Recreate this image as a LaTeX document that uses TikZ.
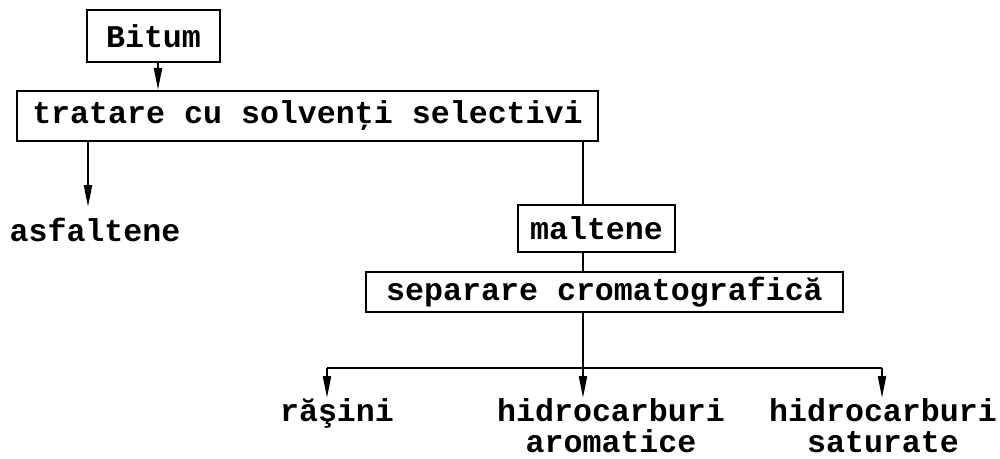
\documentclass[tikz,border=0pt]{standalone}
\usepackage{fontspec}
\setmonofont{Liberation Mono}
\usetikzlibrary{arrows.meta}

\begin{document}
\begin{tikzpicture}[
		line width = 1.2pt,
		every node/.style = {font = \ttfamily\bfseries\fontsize{18}{17.5}\selectfont},
		box/.style = {draw, inner sep = 0pt},
		leaf/.style = {inner sep = 0pt, align = center, anchor = north},
		>= {Triangle[length=0.44cm, width=0.16cm]}
		]

		\useasboundingbox (0,0) rectangle (20,-9.18);

		% boxes
		\node[box, minimum width = 2.66cm, minimum height = 1.04cm] (bitum) at (3.07,-0.72) {Bitum};
		\node[box, minimum width = 11.62cm, minimum height = 1.0cm] (tratare) at (6.15,-2.32) {tratare cu solvenţi selectivi};
		\node[box, minimum width = 3.14cm, minimum height = 0.94cm] (maltene) at (11.93,-4.57) {maltene};
		\node[box, minimum width = 9.54cm, minimum height = 0.8cm] (separare) at (12.09,-5.84) {separare cromatografică};

		% products
		\node[leaf, inner ysep = 0.2cm] (asfaltene) at (1.9,-4.14) {asfaltene};
		\node[leaf] (rasini) at (6.74,-7.96) {răşini};
		\node[leaf] (aromatice) at (12.22,-7.96) {hidrocarburi\\aromatice};
		\node[leaf] (saturate) at (17.66,-7.96) {hidrocarburi\\saturate};

		\coordinate (fork) at (11.66,-7.36);
		\coordinate (forkL) at (6.54,-7.36);
		\coordinate (forkR) at (17.64,-7.36);

		\draw[->] (bitum.south -| 3.16,0) -- (tratare.north -| 3.16,0);
		\draw[->] (tratare.south -| 1.76,0) -- (asfaltene.north -| 1.76,0);
		\draw (tratare.south -| fork) -- (maltene.north -| fork);
		\draw (maltene.south -| fork) -- (separare.north -| fork);
		\draw (separare.south -| fork) -- (fork);
		\draw (forkL) -- (forkR);
		\draw[->] (forkL) -- (forkL |- rasini.north);
		\draw[->] (fork) -- (fork |- aromatice.north);
		\draw[->] (forkR) -- (forkR |- saturate.north);

	\end{tikzpicture}
\end{document}
